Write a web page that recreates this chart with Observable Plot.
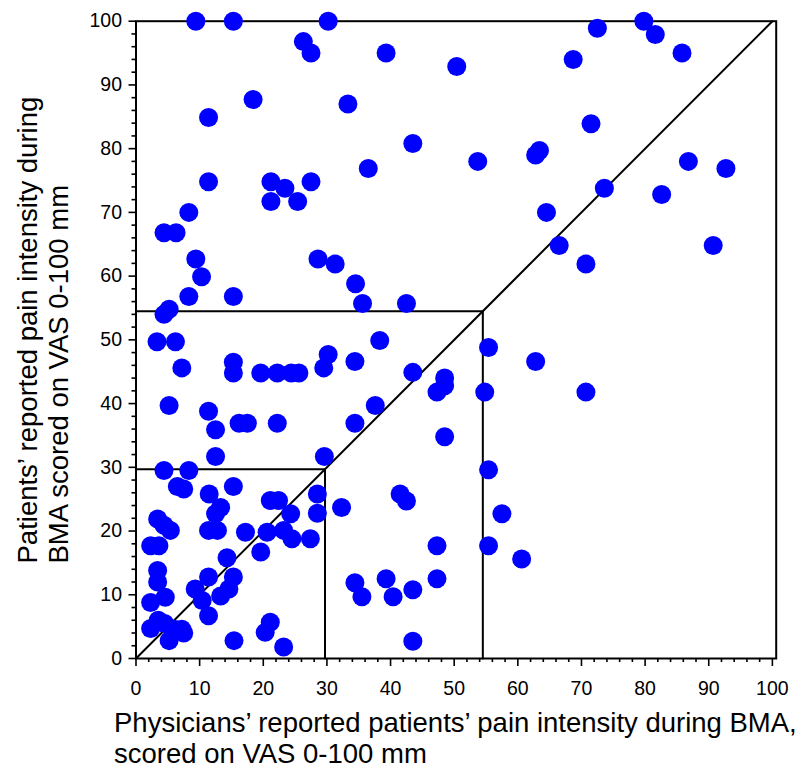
<!DOCTYPE html>
<html>
<head>
<meta charset="utf-8">
<script src="https://cdn.jsdelivr.net/npm/d3@7"></script>
<script src="https://cdn.jsdelivr.net/npm/@observablehq/plot@0.6"></script>
<style>
  body { margin: 0; background: #fff; }
  #chart svg { display: block; }
</style>
</head>
<body>
<div id="chart"></div>
<script>
// Physicians' reported score (x) and patients' reported score (y), VAS 0-100 mm
const physicianVAS = [
  9.4,15.3,30.2,26.3,27.5,39.3,50.4,18.4,33.3,11.4,43.5,36.5,11.4,21.2,23.4,27.5,21.2,25.4,8.3,4.4,6.3,9.4,10.3,8.3,15.3,28.6,31.3,34.5,35.6,42.5,5.2,4.4,
  72.5,79.8,81.6,85.8,68.7,71.5,53.7,63.4,62.8,86.8,92.7,73.6,82.6,64.5,66.5,90.7,70.7,
  3.3,6.2,38.3,7.2,15.3,15.3,19.6,22.2,24.4,25.6,30.2,29.5,34.4,43.5,48.5,48.5,47.3,55.4,62.8,54.8,70.7,5.2,11.4,12.5,16.2,17.5,22.2,34.4,37.6,48.5,12.5,29.6,55.4,
  4.4,8.3,6.5,7.5,15.3,11.5,13.3,12.5,21.1,22.4,28.5,32.3,24.3,28.5,3.4,4.4,5.4,11.4,12.8,17.2,20.6,23.2,24.5,27.4,2.3,3.6,19.6,14.3,3.4,3.4,11.4,15.3,9.3,10.4,13.3,14.6,11.4,4.6,2.3,2.3,3.5,4.5,5.2,6.0,7.2,7.5,15.4,20.3,21.1,23.2,
  41.5,42.5,57.5,47.3,55.4,60.6,34.4,35.5,39.3,40.4,43.5,47.3,43.5
];
const patientVAS = [
  100,100,100,96.8,95.0,95.0,92.9,87.7,87.0,84.9,80.8,76.9,74.8,74.8,73.8,74.8,71.7,71.7,70.0,66.8,66.8,62.7,59.9,56.8,56.8,62.7,61.9,58.8,55.7,55.7,54.8,54.0,
  98.9,100,97.9,95.0,94.0,83.9,78.0,79.7,79.0,78.0,76.9,73.8,72.8,70.0,64.8,64.8,61.9,
  49.7,49.7,49.9,45.6,46.5,44.8,44.8,44.8,44.8,44.8,47.7,45.6,46.6,44.9,44.0,42.8,41.8,48.8,46.6,41.8,41.8,39.7,38.8,35.9,36.9,36.9,36.9,36.9,39.7,34.8,31.7,31.7,29.6,
  29.5,29.5,27.0,26.6,27.0,25.8,23.7,22.7,24.8,24.8,25.8,23.7,22.7,22.8,21.9,20.9,20.1,20.1,20.1,19.8,19.8,20.1,18.8,18.8,17.7,17.7,16.7,15.8,13.8,12.0,12.8,12.8,10.9,9.1,9.8,10.9,6.7,9.6,8.8,4.7,6.0,5.5,2.8,4.6,4.6,4.0,2.8,4.1,5.7,1.8,
  25.8,24.7,22.7,17.7,17.7,15.6,11.9,9.7,12.5,9.7,10.8,12.5,2.7
];
const majorTicks = [0,10,20,30,40,50,60,70,80,90,100];
const minorTicks = d3.range(0, 101, 2).filter(v => v % 10 !== 0);
const identityLine = [0, 100];
const cutoffs = [29.7, 54.5];
const xTitle = ["Physicians’ reported patients’ pain intensity during BMA,", "scored on VAS 0-100 mm"];
const yTitle = ["Patients’ reported pain intensity during", "BMA scored on VAS 0-100 mm"];

const points = physicianVAS.map((x, i) => ({x, y: patientVAS[i]}));
const diag = identityLine.map(v => ({x: v, y: v}));
const boxes = cutoffs.flatMap(c => [
  {g: c, x: 0, y: c}, {g: c, x: c, y: c}, {g: c, x: c, y: 0}
]);

const font = "'Liberation Sans', Arial, sans-serif";

const chart = Plot.plot({
  width: 803,
  height: 773,
  marginLeft: 135.5,
  marginRight: 27.3,
  marginTop: 20.7,
  marginBottom: 115,
  style: {fontFamily: font, background: "#fff", color: "#000"},
  x: {domain: [0, 100.6]},
  y: {domain: [0, 100]},
  marks: [
    Plot.axisX({ticks: majorTicks, tickSize: 8, tickPadding: 15, fontSize: 19.5, label: null, strokeWidth: 1.6}),
    Plot.axisX({ticks: minorTicks, tickSize: 4, text: null, label: null, strokeWidth: 1.6}),
    Plot.axisY({ticks: majorTicks, tickSize: 7, tickPadding: 7, fontSize: 19.5, label: null, strokeWidth: 1.6}),
    Plot.axisY({ticks: minorTicks, tickSize: 4, text: null, label: null, strokeWidth: 1.6}),
    Plot.frame({stroke: "#000", strokeWidth: 2}),
    Plot.line(diag, {x: "x", y: "y", stroke: "#000", strokeWidth: 2}),
    Plot.line(boxes, {x: "x", y: "y", z: "g", stroke: "#000", strokeWidth: 2}),
    Plot.dot(points, {x: "x", y: "y", r: 9.5, fill: "#0000ff", stroke: "none"}),
    Plot.text([xTitle[0]], {text: d => d, frameAnchor: "bottom-left", textAnchor: "start", lineAnchor: "middle", dx: -22, dy: 65, fontSize: 27.5}),
    Plot.text([xTitle[1]], {text: d => d, frameAnchor: "bottom-left", textAnchor: "start", lineAnchor: "middle", dx: -22, dy: 96, fontSize: 27.5}),
    Plot.text([yTitle[0]], {text: d => d, frameAnchor: "bottom-left", textAnchor: "start", lineAnchor: "middle", rotate: -90, dx: -108, dy: -95, fontSize: 27.5}),
    Plot.text([yTitle[1]], {text: d => d, frameAnchor: "bottom-left", textAnchor: "start", lineAnchor: "middle", rotate: -90, dx: -77, dy: -95, fontSize: 27.5})
  ]
});
document.getElementById("chart").append(chart);
</script>
</body>
</html>
